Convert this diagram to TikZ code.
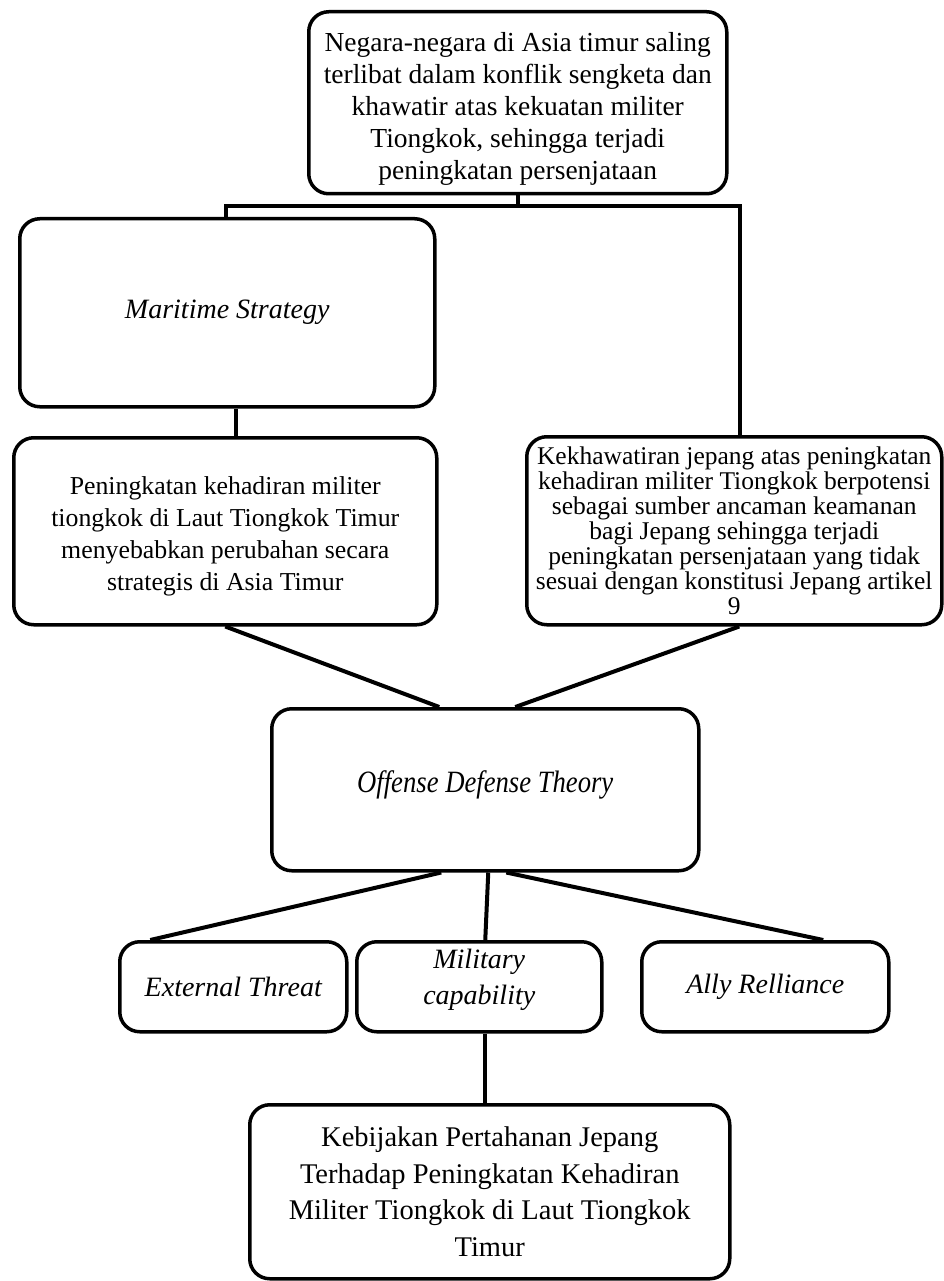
\documentclass[tikz,border=0pt]{standalone}
\usepackage{fontspec}
\setmainfont{Liberation Serif}[ItalicFont=Liberation Serif Italic]
\newfontfamily\cond[FakeStretch=0.86,ItalicFont=Liberation Serif Italic]{Liberation Serif}
\begin{document}
\begin{tikzpicture}[x=1pt,y=1pt,
  box/.style={draw, line width=3.5pt, rounded corners=20pt, inner sep=0pt, anchor=north west},
  txt/.style={align=center, inner sep=0pt},
  conn/.style={line width=4pt},
  topf/.style={font=\fontsize{27.5}{32}\selectfont},
  leftf/.style={font=\fontsize{25.8}{32}\selectfont},
  rightf/.style={font=\fontsize{25.5}{25}\selectfont},
  finf/.style={font=\fontsize{28.5}{36.5}\selectfont},
  ital/.style={font=\itshape\fontsize{28}{36}\selectfont}]
\useasboundingbox (0,0) rectangle (943,-1281);
% boxes
\node[box,minimum width=418pt,minimum height=182pt] (top) at (307,-10) {};
\node[box,minimum width=415pt,minimum height=188pt] (mar) at (18,-217) {};
\node[box,minimum width=423pt,minimum height=187pt] (left2) at (12,-436) {};
\node[box,minimum width=415pt,minimum height=188pt] (right) at (525,-435) {};
\node[box,minimum width=427pt,minimum height=162pt] (off) at (270,-707) {};
\node[box,minimum width=227pt,minimum height=90pt] (ext) at (118,-940) {};
\node[box,minimum width=245pt,minimum height=90pt] (mil) at (355,-940) {};
\node[box,minimum width=247pt,minimum height=90pt] (ally) at (640,-940) {};
\node[box,minimum width=480pt,minimum height=174pt] (fin) at (248,-1103) {};
% texts
\node[txt,topf] (topt) at ([yshift=-6pt]top.center)
  {Negara-negara di Asia timur saling\\terlibat dalam konflik sengketa dan\\khawatir atas kekuatan militer\\Tiongkok, sehingga terjadi\\peningkatan persenjataan};
\node[txt,ital] (mart) at (mar.center) {Maritime Strategy};
\node[txt,leftf] (left2t) at ([yshift=-5pt]left2.center)
  {Peningkatan kehadiran militer\\tiongkok di Laut Tiongkok Timur\\menyebabkan perubahan secara\\strategis di Asia Timur};
\node[txt,rightf] (rightt) at (right.center)
  {Kekhawatiran jepang atas peningkatan\\kehadiran militer Tiongkok berpotensi\\sebagai sumber ancaman keamanan\\bagi Jepang sehingga terjadi\\peningkatan persenjataan yang tidak\\sesuai dengan konstitusi Jepang artikel\\9};
\node[txt,font=\cond\itshape\fontsize{31}{34}\selectfont] (offt) at ([yshift=5pt]off.center) {Offense Defense Theory};
\node[txt,ital] (extt) at (ext.center) {External Threat};
\node[txt,ital] (milt) at ([yshift=7pt]mil.center) {Military\\capability};
\node[txt,ital] (allyt) at (ally.center) {Ally Relliance};
\node[txt,finf] (fint) at (fin.center)
  {Kebijakan Pertahanan Jepang\\Terhadap Peningkatan Kehadiran\\Militer Tiongkok di Laut Tiongkok\\Timur};
% connectors
\coordinate (barL) at (226,-206);
\coordinate (barR) at (740,-206);
\draw[conn] (top.south) -- (top.south |- barL);
\draw[conn] (barL |- mar.north) -- (barL) -- (barR) -- (barR |- right.north);
\draw[conn] ([xshift=9pt]mar.south) -- ([xshift=9pt]mar.south |- left2.north);
\draw[conn] (left2.south) -- ([xshift=-46pt]off.north);
\draw[conn] ([xshift=5pt]right.south) -- ([xshift=30pt]off.north);
\draw[conn] ([xshift=-44pt]off.south) -- ([xshift=-83pt]ext.north);
\draw[conn] ([xshift=3pt]off.south) -- ([xshift=6pt]mil.north);
\draw[conn] ([xshift=21pt]off.south) -- ([xshift=58pt]ally.north);
\draw[conn] ([xshift=6pt]mil.south) -- ([xshift=6pt]mil.south |- fin.north);
\end{tikzpicture}
\end{document}
